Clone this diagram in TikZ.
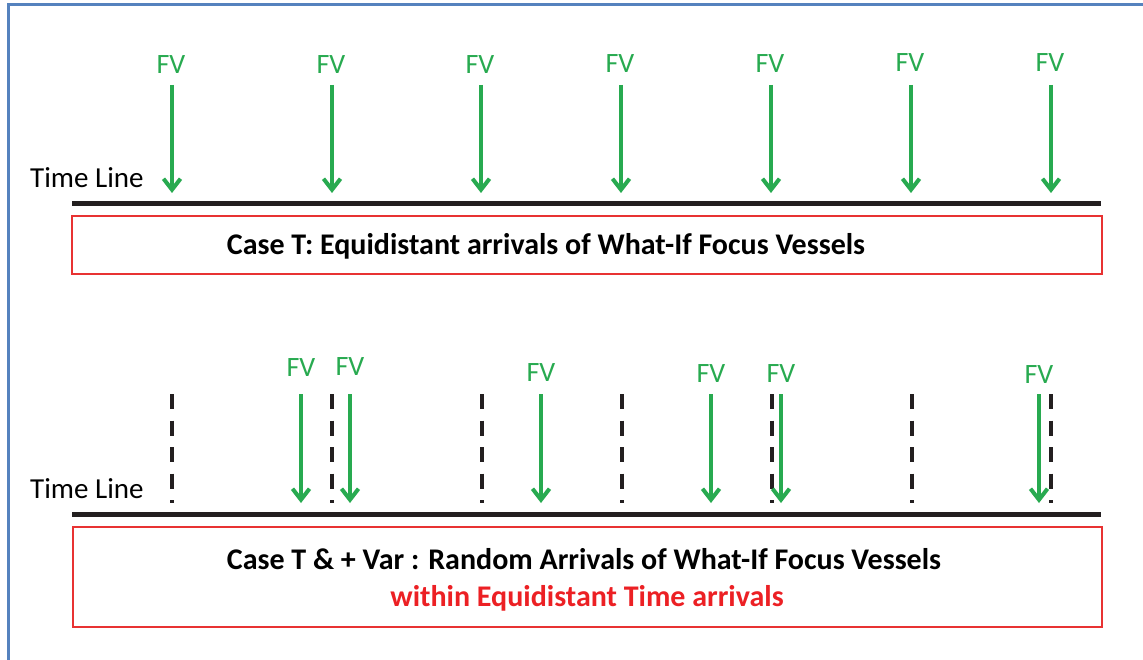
\documentclass[tikz,border=0pt]{standalone}
\usepackage{fontspec}
\setmainfont{Carlito}
\usetikzlibrary{arrows.meta}
\definecolor{fvgreen}{RGB}{40,170,80}
\definecolor{boxred}{RGB}{232,50,50}
\definecolor{txtred}{RGB}{236,32,36}
\definecolor{frameblue}{RGB}{85,130,190}
\definecolor{lineblack}{RGB}{35,31,32}
\tikzset{
  fvlabel/.style={anchor=base, inner sep=0pt, text=fvgreen, font=\fontsize{28}{31}\selectfont},
  tllabel/.style={anchor=base west, inner sep=0pt, font=\fontsize{29}{33}\selectfont},
  fvarrow/.style={draw=fvgreen, line width=4pt, -{Straight Barb[length=11pt,width=17pt,line width=4pt]}},
  timeline/.style={draw=lineblack, line width=5pt},
  casebox/.style={draw=boxred, line width=2pt},
  casetext/.style={anchor=base, inner sep=0pt, font=\bfseries\fontsize{30}{34}\selectfont},
  tick/.style={draw=lineblack, line width=3.3pt, dash pattern=on 15pt off 11.5pt}
}
\begin{document}
\begin{tikzpicture}[x=1pt,y=-1pt]
\clip (0,0) rectangle (1143,660);
\fill[white] (0,0) rectangle (1143,660);
\draw[frameblue, line width=2.7pt] (8.7,4.3) rectangle (1160,680);

% ---------- top part ----------
\node[tllabel] (tl1) at (30,188) {Time Line};
\coordinate (t1a) at (72,204);
\coordinate (t1b) at (1101,204);
\draw[timeline] (t1a) -- (t1b);
\node[casebox, minimum width=1030pt, minimum height=58pt, inner sep=0pt] (box1) at (587,245) {};
\node[casetext] (c1) at (546,255) {Case T: Equidistant arrivals of What-If Focus Vessels};

\foreach \i/\x/\b in {1/172/74, 2/332/74, 3/481/74, 4/621/73, 5/771/73, 6/911/72, 7/1051/72}{
  \node[fvlabel] (fvt\i) at (\x-1,\b) {FV};
  \coordinate (ats\i) at (\x,85);
  \coordinate (ate\i) at (\x,193);
  \draw[fvarrow] (ats\i) -- (ate\i);
}

% ---------- bottom part ----------
\node[tllabel] (tl2) at (30,498) {Time Line};
\coordinate (t2a) at (72,514);
\coordinate (t2b) at (1101,514);
\draw[timeline] (t2a) -- (t2b);
\node[casebox, minimum width=1029pt, minimum height=100pt, inner sep=0pt] (box2) at (587.5,577) {};
\node[casetext] (c2) at (584,569) {Case T \& + Var : Random Arrivals of What-If Focus Vessels};
\node[casetext, text=txtred] (c3) at (587,606) {within Equidistant Time arrivals};

\foreach \i/\x in {1/172, 2/332, 3/482, 4/622, 5/772, 6/912, 7/1051}{
  \coordinate (ds\i) at (\x,394);
  \coordinate (de\i) at (\x,503);
  \draw[tick] (ds\i) -- (de\i);
}

\foreach \i/\x/\b in {1/301/376, 2/350/375, 3/541/381, 4/711/382, 5/781/382, 6/1039/383}{
  \node[fvlabel] (fvb\i) at (\x,\b) {FV};
  \coordinate (abs\i) at (\x,394);
  \coordinate (abe\i) at (\x,503);
  \draw[fvarrow] (abs\i) -- (abe\i);
}
\end{tikzpicture}
\end{document}
